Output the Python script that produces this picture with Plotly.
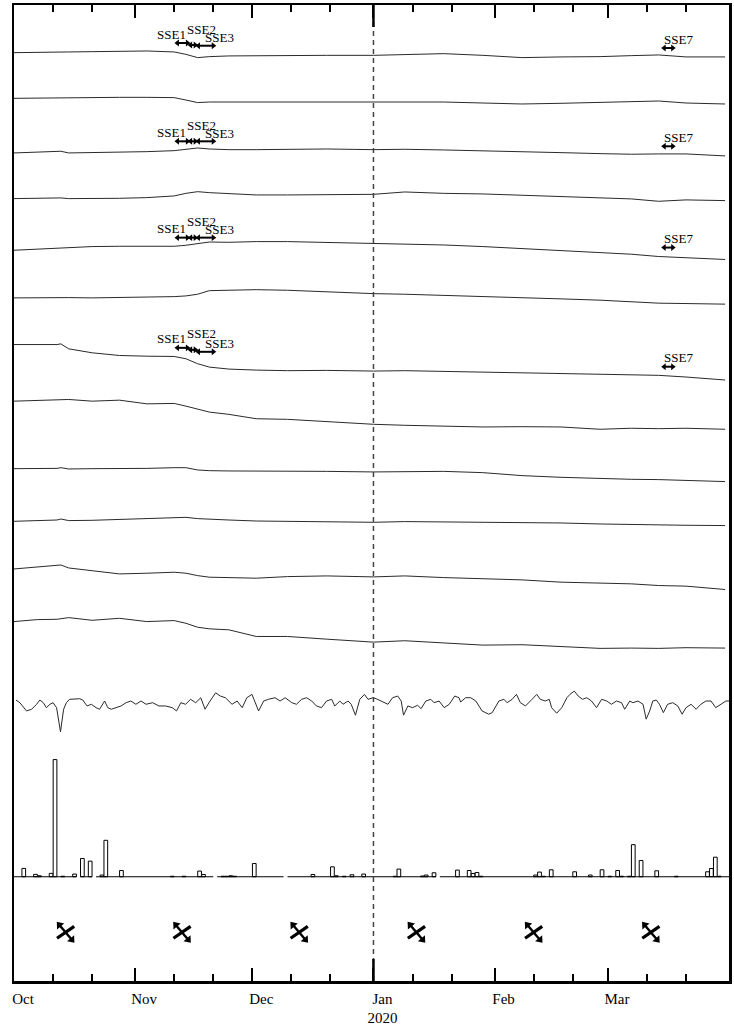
import pandas as pd
import plotly.graph_objects as go

T0 = pd.Timestamp("2019-10-01")


def days_to_dates(days):
    return [T0 + pd.Timedelta(days=float(x)) for x in days]


# ---------------- data ----------------
# GNSS-like displacement series (relative units), sampled at these day offsets from 2019-10-01
gnss_day = [0, 6, 11, 12, 14, 20, 27, 34, 41, 44, 47, 50, 55, 62, 70, 80,
            92, 100, 110, 120, 130, 140, 150, 158, 165, 172, 182]
gnss_1 = [0, 0, 0.3, 0.7, 0.7, 1, 1.3, 1.7, 0.7, -1.7, -5, -4, -3.3, -3, -2.7, -2.7,
          -2.7, -1.7, -1, -2.7, -5, -4.3, -4, -3, -2.3, -4.3, -4.3]
gnss_2 = [0, 0.3, 0.7, 1, 1, 1, 1, 1, 0.7, -1.7, -4.3, -3.7, -3.7, -3.7, -3.3, -3.3,
          -3.7, -3.7, -3.7, -4.7, -5.7, -5, -4, -3.3, -2.7, -4.7, -5.7]
gnss_3 = [0, 0.7, 1.3, 1.7, 0, 0.3, 0.7, 1.3, 2.3, 3.7, 5, 4, 3.3, 3.3, 3.7, 4,
          3.3, 3.7, 3, 2.3, 1.7, 0.3, -0.7, -1.3, -1, -1, -3]
gnss_4 = [0, 0.3, 0.3, 0.7, 0, 0, 0.3, 1, 2.7, 5.3, 7, 6, 5, 3.7, 3.7, 4.3,
          4.3, 6.7, 5.3, 4.7, 3.3, 2.3, 0.3, -0.3, -2.7, -1.3, -2]
gnss_5 = [0, 1.3, 2.3, 2.3, 3, 3.7, 4, 4, 4, 5, 7, 8.3, 8, 8.7, 8.7, 8,
          7.3, 6.7, 5.3, 3.7, 1.7, -0.7, -2.7, -4, -6.3, -7.3, -9.3]
gnss_6 = [0, 0.3, 0.3, 0.3, 0.3, 0, 0.3, 0.7, 1.3, 2, 3.7, 7.3, 7.7, 8.3, 7.7, 6,
          4.3, 3.7, 2.7, 1.7, 0, -1, -2.3, -3.7, -5.3, -5.7, -6.3]
gnss_7 = [0, -0.3, 0, 0.7, -4.3, -8.3, -11, -11.7, -12, -14.3, -19.3, -22.7, -24.7, -25.7, -26.3, -26,
          -26.7, -26.3, -27, -27.7, -28.3, -29.3, -30.3, -31, -31, -32.7, -35.7]
gnss_8 = [0, 0.7, 0.7, 1.3, 1.7, 0, 1, -2.7, -2.3, -5, -8.3, -11, -13.3, -17.7, -18.3, -20.7,
          -23.3, -24.3, -25, -26, -25.7, -26, -28.3, -27.3, -27.7, -27.3, -28.3]
gnss_9 = [0, 0, 0.3, 1, -0.3, 0, 0, 0.3, 1, 1, -1.3, -2, -2.3, -2.3, -2.3, -2.7,
          -3.3, -3, -2.7, -4, -7, -8.7, -10, -10.7, -11, -11.7, -13]
gnss_10 = [0, 0.3, 1.3, 2.3, 0.7, 1, 2, 3, 4.3, 4, 2.7, 2, 1.3, 0.3, 0, -0.3,
           -1, -0.3, -0.7, -1, -1, -1.7, -2.7, -3.3, -3.7, -4, -4.3]
gnss_11 = [0, 1.7, 3.3, 4, 1, -2, -5, -4.3, -3.3, -4.3, -6.7, -8.3, -9, -9.3, -7.7, -7,
           -8, -7, -8.7, -10, -11, -13.3, -14, -15, -16.7, -17.3, -20.7]
gnss_12 = [0, 2, 2.3, 3, 4, 1.3, 3.3, 0, 1, -1.7, -5.7, -7.3, -8.3, -15, -15, -17.7,
           -20.7, -19.3, -21.7, -23.7, -23.3, -25, -27, -26.7, -27, -26.3, -26.7]
gnss_series = [gnss_1, gnss_2, gnss_3, gnss_4, gnss_5, gnss_6,
               gnss_7, gnss_8, gnss_9, gnss_10, gnss_11, gnss_12]

# oscillating record (relative units) at irregular day offsets
wig_day = [0.5, 1.5, 3.2, 4.5, 5.8, 6.6, 7.5, 8.3, 9.2, 10.0, 10.9, 11.9, 12.7, 13.4, 14.2, 15.5,
           16.8, 17.6, 18.7, 19.8, 21.0, 21.9, 23.2, 24.0, 24.9, 26.1, 27.4, 28.7, 29.9, 31.2,
           32.5, 33.8, 35.5, 37.1, 38.8, 40.5, 41.6, 42.7, 43.9, 45.2, 46.5, 47.8, 48.9, 49.9,
           51.6, 52.8, 54.1, 55.8, 57.1, 58.4, 59.6, 60.9, 62.6, 63.9, 65.1, 66.8, 68.1, 69.4,
           71.1, 72.3, 73.6, 74.9, 76.2, 77.4, 78.7, 80.0, 81.3, 82.1, 83.4, 84.2, 85.5, 86.3,
           87.4, 88.5, 89.7, 90.6, 91.9, 92.7, 94.0, 95.7, 96.9, 98.2, 99.1, 99.7, 100.8, 102.0,
           103.3, 104.2, 105.4, 106.7, 107.5, 108.8, 110.1, 111.4, 112.8, 113.9, 114.3, 115.6,
           116.9, 118.2, 119.8, 121.5, 122.4, 124.1, 125.4, 126.2, 127.5, 128.6, 129.6, 130.9,
           132.6, 133.8, 134.7, 136.0, 137.0, 137.6, 138.9, 140.2, 141.5, 142.3, 143.4, 144.4,
           145.5, 146.6, 147.8, 149.1, 150.4, 151.7, 152.9, 154.2, 155.5, 156.3, 157.6, 158.4,
           159.7, 161.0, 161.8, 162.7, 163.5, 164.4, 165.2, 166.2, 167.3, 168.6, 169.9, 171.0,
           172.0, 173.3, 174.6, 175.8, 177.1, 178.4, 179.6, 180.9, 182.2, 183.0]
wig_val = [1.0, -1.7, -10, -8.3, -3.3, 1, -1.7, -6.7, -3.3, -1.7, -6.7, -31, -8.3, -1.7, 1.7, 2.3,
           2.3, 1, -5, -3.3, -6.7, -8.3, 0, -6.7, -8.3, -6.7, -5, -1.7, 0, -3.3,
           0, -3.3, -1.7, -5, -5, -6.7, -10, -1.7, -3.3, 1.7, -1.7, 3.3, -8.3, -1.7,
           8.3, 5, 3.3, -3.3, 0, -6.7, 3.3, 6.7, -10, 0, 1.7, 3.3, 0, 3.3,
           -1.7, -3.3, 1.7, 3.3, 0, -5, -6.7, 0, 1.7, -5, 0, -3.3, 0, -3.3,
           -14.3, 1.7, 6.7, 1.7, 3.3, 2.3, 0, -3.3, 3.3, 5, 0, -14.3, -5, -6.7,
           -4.3, -7.7, 0, 1.7, -1.7, 0, -6.7, -3.3, 5, 3.3, -1, 3.3,
           3.3, 0, -10, -13.3, -11.7, 0, 1.7, -1.7, 1.7, 6.7, -1.7, -5,
           1.7, 6.7, 1.7, 0, 1.7, -6.7, -12.3, -6.7, 3.3, 6.7, 10, 5,
           1.7, 3.3, 0, -6.7, 1.7, 0, -3.3, 0, -1.7, -8.3, 0, -1.7,
           0, -3.3, -18.3, -10, 0, 1, -3.3, -11.7, -3.3, -1.7, -5, -13.3,
           -6.7, -3.3, -8.3, -3.3, 0, 0, -6.7, -3.3, 0, 0]

# daily rainfall (mm); days not listed are 0, missing days have no data
rain_dates = ["2019-10-03", "2019-10-06", "2019-10-07", "2019-10-10", "2019-10-11", "2019-10-13",
              "2019-10-16", "2019-10-18", "2019-10-20", "2019-10-23", "2019-10-24", "2019-10-28",
              "2019-11-10", "2019-11-13", "2019-11-17", "2019-11-18", "2019-11-23", "2019-11-24",
              "2019-11-25", "2019-11-26", "2019-12-01", "2019-12-16", "2019-12-21", "2019-12-22",
              "2019-12-24", "2019-12-26", "2019-12-29", "2020-01-06", "2020-01-07", "2020-01-13",
              "2020-01-14", "2020-01-16", "2020-01-22", "2020-01-25", "2020-01-26", "2020-01-27",
              "2020-01-28", "2020-02-11", "2020-02-12", "2020-02-13", "2020-02-15", "2020-02-21",
              "2020-02-25", "2020-02-28", "2020-03-01", "2020-03-03", "2020-03-04", "2020-03-06",
              "2020-03-07", "2020-03-09", "2020-03-13", "2020-03-18", "2020-03-26", "2020-03-27",
              "2020-03-28", "2020-03-29"]
rain_mm = [8.4, 2.4, 1, 3.4, 118, 0.5,
           2.7, 18.4, 15.7, 1.7, 36.7, 6.3,
           0.5, 0.5, 5.7, 2.3, 0.5, 0.5,
           1, 0.5, 13.3, 2.3, 10, 1,
           0.5, 2, 2.7, 0.5, 7.7, 0.7,
           1.7, 4, 6.7, 6.3, 3.3, 4.3,
           0.5, 1.7, 4.7, 0.5, 7, 5,
           1.7, 7, 0.5, 6.3, 0.5, 0.5,
           32.3, 16.3, 6, 0.5, 5, 8.3,
           19.7, 0.5]
rain_missing = ["2019-10-17", "2019-10-21", "2019-11-21", "2019-12-09", "2020-01-17"]

# slow slip events (start, end)
sse_names = ["SSE1", "SSE2", "SSE3", "SSE7"]
sse_start = ["2019-11-11 10:00", "2019-11-14 19:00", "2019-11-16 19:00", "2020-03-15 00:00"]
sse_end = ["2019-11-14 19:00", "2019-11-16 19:00", "2019-11-21 10:00", "2020-03-18 00:00"]

# dates of the cross symbols in the bottom panel
cross_dates = ["2019-10-14 05:00", "2019-11-13", "2019-12-13", "2020-01-12", "2020-02-11", "2020-03-12"]

# axis ticks
tick_dates = ["2019-10-01", "2019-11-01", "2019-12-01", "2020-01-01", "2020-02-01", "2020-03-01"]
tick_labels = ["Oct", "Nov", "Dec", "Jan<br>2020", "Feb", "Mar"]
minor_dates = ["2019-10-11", "2019-10-21", "2019-11-11", "2019-11-21", "2019-12-11", "2019-12-21",
               "2020-01-11", "2020-01-21", "2020-02-11", "2020-02-21", "2020-03-11", "2020-03-21"]

# ---------------- layout constants ----------------
row_offset = [-48, -94, -149, -195, -247, -295, -342, -399, -467, -520, -568, -621]
wig_offset = -701
rain_base = -878
cross_y = -934
sse_rows = [0, 2, 4, 6]
sse_arrow_dy = [[9.7, 7.7, 7.0, 4.7], [11.7, 11.7, 11.7, 6.7],
                [12.7, 12.7, 12.7, 2.7], [-3.3, -5.3, -7.3, -22.3]]

LINE = "#2a2a2a"
FONT = "Liberation Serif"

fig = go.Figure()

gdates = days_to_dates(gnss_day)
for i, series in enumerate(gnss_series):
    fig.add_trace(go.Scatter(x=gdates, y=[row_offset[i] + v for v in series], mode="lines",
                             line=dict(color=LINE, width=1), showlegend=False, hoverinfo="skip"))

fig.add_trace(go.Scatter(x=days_to_dates(wig_day), y=[wig_offset + v for v in wig_val], mode="lines",
                         line=dict(color=LINE, width=1), showlegend=False, hoverinfo="skip"))

# rainfall baseline (with gaps at missing days)
all_days = pd.date_range("2019-10-01", "2020-03-31", freq="D")
missing = set(pd.to_datetime(rain_missing))
bx, by = [], []
for dday in all_days:
    if dday in missing:
        bx.append(None)
        by.append(None)
    else:
        bx += [dday, dday + pd.Timedelta(days=1)]
        by += [rain_base, rain_base]
fig.add_trace(go.Scatter(x=bx, y=by, mode="lines", line=dict(color="black", width=1),
                         connectgaps=False, showlegend=False, hoverinfo="skip"))

fig.add_trace(go.Bar(x=[pd.Timestamp(s) + pd.Timedelta(hours=12) for s in rain_dates], y=rain_mm,
                     base=rain_base, width=86400000 * 0.95,
                     marker=dict(color="white", line=dict(color="black", width=1)),
                     showlegend=False, hoverinfo="skip"))

# SSE double arrows: one trace, segments separated by None
ax_, ay_, asym = [], [], []
for r_i, row in enumerate(sse_rows):
    base = row_offset[row]
    for k in range(4):
        yk = base + sse_arrow_dy[r_i][k]
        ax_ += [pd.Timestamp(sse_start[k]) + pd.Timedelta(hours=10),
                pd.Timestamp(sse_end[k]) - pd.Timedelta(hours=10), None]
        ay_ += [yk, yk, None]
        asym += ["triangle-left", "triangle-right", "circle"]
fig.add_trace(go.Scatter(x=ax_, y=ay_, mode="lines+markers", connectgaps=False,
                         line=dict(color="black", width=2),
                         marker=dict(symbol=asym, size=6, color="black", line=dict(width=0)),
                         showlegend=False, hoverinfo="skip"))

# cross symbols: double-headed diagonal + plain bar
cx, cy, cang, lx, ly = [], [], [], [], []
for cd in cross_dates:
    c = pd.Timestamp(cd)
    cx += [c - pd.Timedelta(days=1.6), c + pd.Timedelta(days=1.6), None]
    cy += [cross_y + 7.5, cross_y - 7.5, None]
    cang += [320, 140, 0]
    lx += [c - pd.Timedelta(days=2.2), c + pd.Timedelta(days=2.2), None]
    ly += [cross_y - 6, cross_y + 6, None]
fig.add_trace(go.Scatter(x=lx, y=ly, mode="lines", connectgaps=False,
                         line=dict(color="black", width=3.2), showlegend=False, hoverinfo="skip"))
fig.add_trace(go.Scatter(x=cx, y=cy, mode="lines+markers", connectgaps=False,
                         line=dict(color="black", width=2.4),
                         marker=dict(symbol="triangle-up", size=8, angle=cang, color="black",
                                     line=dict(width=0)),
                         showlegend=False, hoverinfo="skip"))

annotations = []
font = dict(family=FONT, size=13, color="black")
for r_i, row in enumerate(sse_rows):
    base = row_offset[row]
    dys = sse_arrow_dy[r_i]
    annotations.append(dict(x=sse_end[0], y=base + dys[0] + 9, xref="x", yref="y", text=sse_names[0],
                            showarrow=False, xanchor="right", yanchor="middle", xshift=-1, font=font))
    annotations.append(dict(x=sse_start[1], y=base + dys[1] + 16, xref="x", yref="y", text=sse_names[1],
                            showarrow=False, xanchor="left", yanchor="middle", xshift=-4, font=font))
    annotations.append(dict(x=sse_start[2], y=base + dys[2] + 8, xref="x", yref="y", text=sse_names[2],
                            showarrow=False, xanchor="left", yanchor="middle", xshift=6, font=font))
    annotations.append(dict(x=sse_start[3], y=base + dys[3] + 9, xref="x", yref="y", text=sse_names[3],
                            showarrow=False, xanchor="left", yanchor="middle", xshift=-1, font=font))

shapes = [
    dict(type="line", xref="x", yref="paper", x0=tick_dates[3], x1=tick_dates[3], y0=0, y1=1,
         line=dict(color="#444", width=1.5, dash="5px,4px")),
    dict(type="line", xref="x", yref="paper", x0=tick_dates[3], x1=tick_dates[3],
         ysizemode="pixel", yanchor=0, y0=0, y1=22, line=dict(color="black", width=2.5)),
    dict(type="line", xref="x", yref="paper", x0=tick_dates[3], x1=tick_dates[3],
         ysizemode="pixel", yanchor=1, y0=-22, y1=0, line=dict(color="black", width=2.5)),
]

fig.update_layout(
    width=734, height=1028,
    margin=dict(l=14, r=2, t=4, b=41),
    paper_bgcolor="white", plot_bgcolor="white",
    bargap=0,
    font=dict(family=FONT, color="black"),
    annotations=annotations,
    shapes=shapes,
    xaxis=dict(type="date", range=["2019-10-01", "2020-04-01"],
               tickvals=tick_dates, ticktext=tick_labels,
               ticks="inside", ticklen=13, tickwidth=2, tickcolor="black",
               showline=True, linecolor="black", linewidth=2.5, mirror="allticks",
               showgrid=False, zeroline=False, ticklabelshift=9, ticklabelstandoff=2,
               tickfont=dict(family=FONT, size=15, color="black"),
               minor=dict(tickvals=minor_dates, ticks="inside", ticklen=7, tickwidth=2,
                          tickcolor="black", showgrid=False)),
    yaxis=dict(range=[-983, 0], showline=True, linecolor="black", linewidth=2.5, mirror=True,
               showticklabels=False, ticks="", showgrid=False, zeroline=False),
)

fig.write_html("out.html", config={"displayModeBar": False, "staticPlot": True},
               post_script="document.body.style.margin='0';document.body.style.padding='0';"
                           "document.body.style.overflow='hidden';")
